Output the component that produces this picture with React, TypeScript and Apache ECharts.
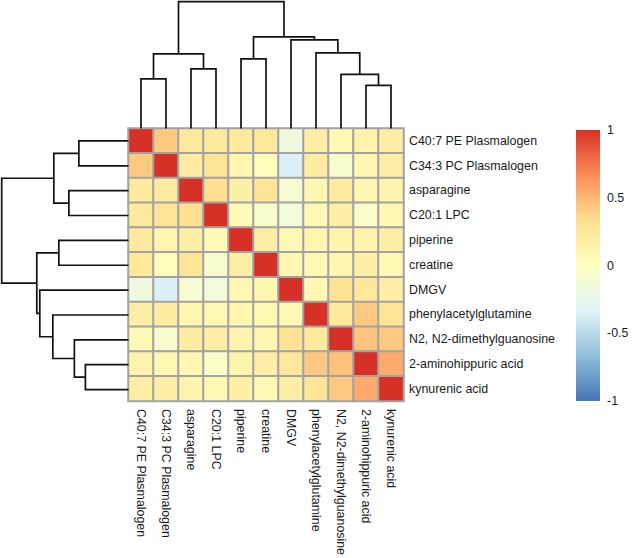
import React, { useEffect, useRef } from "react";
import * as echarts from "echarts";

const labels = [
  "C40:7 PE Plasmalogen",
  "C34:3 PC Plasmalogen",
  "asparagine",
  "C20:1 LPC",
  "piperine",
  "creatine",
  "DMGV",
  "phenylacetylglutamine",
  "N2, N2-dimethylguanosine",
  "2-aminohippuric acid",
  "kynurenic acid",
];

const corr = [
  [1, 0.43, 0.23, 0.23, 0.23, 0.25, -0.18, 0.19, 0.08, 0.14, 0.19],
  [0.43, 1, 0.21, 0.29, 0.11, 0.02, -0.35, 0.2, -0.08, 0.09, 0.19],
  [0.23, 0.21, 1, 0.34, 0.17, 0.29, -0.1, 0.1, 0.2, 0.1, 0.12],
  [0.23, 0.29, 0.34, 1, 0.05, -0.08, -0.15, 0.08, 0.17, -0.05, 0.07],
  [0.23, 0.11, 0.17, 0.05, 1, 0.19, 0.08, 0.11, 0.12, 0.12, 0.17],
  [0.25, 0.02, 0.29, -0.08, 0.19, 1, 0.1, 0.08, 0.1, 0.17, 0.08],
  [-0.18, -0.35, -0.1, -0.15, 0.08, 0.1, 1, 0.08, 0.3, 0.26, 0.18],
  [0.19, 0.2, 0.1, 0.08, 0.11, 0.08, 0.08, 1, 0.24, 0.43, 0.29],
  [0.08, -0.08, 0.2, 0.17, 0.12, 0.1, 0.3, 0.24, 1, 0.45, 0.43],
  [0.14, 0.09, 0.1, -0.05, 0.12, 0.17, 0.26, 0.43, 0.45, 1, 0.55],
  [0.19, 0.19, 0.12, 0.07, 0.17, 0.08, 0.18, 0.29, 0.43, 0.55, 1],
];

// hclust-style merges: negative = leaf (1-based position), positive = earlier merge
const merges: [number, number, number][] = [
  [-1, -2, 0.99],
  [-3, -4, 1.19],
  [1, 2, 1.49],
  [-5, -6, 1.39],
  [-10, -11, 0.86],
  [-9, 5, 1.08],
  [-8, 6, 1.51],
  [-7, 7, 1.77],
  [4, 8, 1.83],
  [3, 9, 2.53],
];
const treeHeight = 2.53;

const palette = ["#4575B4", "#91BFDB", "#E0F3F8", "#FFFFBF", "#FEE090", "#FC8D59", "#D73027"];
const scaleMin = -1;
const scaleMax = 1;

const FONT = "'Liberation Sans', Arial, Helvetica, sans-serif";
const TXT = "#1a1a1a";

function buildSegments() {
  const nodes: { pos: number; h: number }[] = [];
  const segs: number[][] = [];
  const get = (r: number) => (r < 0 ? { pos: -r - 0.5, h: 0 } : nodes[r - 1]);
  merges.forEach(([a, b, h]) => {
    const A = get(a);
    const B = get(b);
    segs.push([A.pos, A.h, B.pos, B.h, h]);
    nodes.push({ pos: (A.pos + B.pos) / 2, h });
  });
  return segs;
}

export default function App() {
  const ref = useRef<HTMLDivElement>(null);
  useEffect(() => {
    if (!ref.current) return;
    const chart = echarts.init(ref.current, null, { renderer: "svg" });
    const n = labels.length;
    const heat: number[][] = [];
    corr.forEach((row, i) => row.forEach((v, j) => heat.push([j, i, v])));
    const segs = buildSegments();
    const lineStyle = { stroke: "#111", lineWidth: 1.7, fill: "none" };

    const gradStops = palette
      .map((c, i) => ({ offset: 1 - i / (palette.length - 1), color: c }))
      .reverse();

    chart.setOption({
      animation: false,
      backgroundColor: "#fff",
      textStyle: { fontFamily: FONT },
      grid: [
        { left: 128.5, top: 128.5, width: 275, height: 273.5 },
        { left: 128.5, top: 1.7, width: 275, height: 126.8 },
        { left: 1.7, top: 128.5, width: 126.8, height: 273.5 },
        { left: 576, top: 130, width: 24, height: 271 },
      ],
      xAxis: [
        {
          type: "category",
          gridIndex: 0,
          data: labels,
          axisLine: { show: false },
          axisTick: { show: false },
          splitLine: { show: false },
          axisLabel: { rotate: -90, margin: 8, fontSize: 12.4, color: TXT, fontFamily: FONT, interval: 0 },
        },
        { type: "value", gridIndex: 1, min: 0, max: n, show: false },
        { type: "value", gridIndex: 2, min: 0, max: treeHeight, inverse: true, show: false },
        { type: "value", gridIndex: 3, min: 0, max: 1, show: false },
      ],
      yAxis: [
        {
          type: "category",
          gridIndex: 0,
          data: labels,
          inverse: true,
          position: "right",
          axisLine: { show: false },
          axisTick: { show: false },
          splitLine: { show: false },
          axisLabel: { margin: 5.5, fontSize: 12.4, color: TXT, fontFamily: FONT, interval: 0 },
        },
        { type: "value", gridIndex: 1, min: 0, max: treeHeight, show: false },
        { type: "value", gridIndex: 2, min: 0, max: n, inverse: true, show: false },
        {
          type: "value",
          gridIndex: 3,
          min: scaleMin,
          max: scaleMax,
          interval: 0.5,
          position: "right",
          axisLine: { show: false },
          axisTick: { show: false },
          splitLine: { show: false },
          axisLabel: { margin: 7, fontSize: 12.4, color: TXT, fontFamily: FONT },
        },
      ],
      visualMap: {
        type: "continuous",
        show: false,
        min: scaleMin,
        max: scaleMax,
        seriesIndex: 0,
        inRange: { color: palette },
      },
      series: [
        {
          type: "heatmap",
          xAxisIndex: 0,
          yAxisIndex: 0,
          data: heat,
          itemStyle: { borderColor: "#a2a2a2", borderWidth: 2 },
          emphasis: { disabled: true },
        },
        {
          type: "custom",
          xAxisIndex: 1,
          yAxisIndex: 1,
          clip: false,
          data: segs,
          renderItem: (_p: any, api: any) => {
            const xl = api.value(0), hl = api.value(1), xr = api.value(2), hr = api.value(3), h = api.value(4);
            return {
              type: "polyline",
              shape: { points: [api.coord([xl, hl]), api.coord([xl, h]), api.coord([xr, h]), api.coord([xr, hr])] },
              style: lineStyle,
            };
          },
        },
        {
          type: "custom",
          xAxisIndex: 2,
          yAxisIndex: 2,
          clip: false,
          data: segs,
          renderItem: (_p: any, api: any) => {
            const xl = api.value(0), hl = api.value(1), xr = api.value(2), hr = api.value(3), h = api.value(4);
            return {
              type: "polyline",
              shape: { points: [api.coord([hl, xl]), api.coord([h, xl]), api.coord([h, xr]), api.coord([hr, xr])] },
              style: lineStyle,
            };
          },
        },
        {
          type: "custom",
          xAxisIndex: 3,
          yAxisIndex: 3,
          clip: false,
          data: [[0, scaleMin]],
          renderItem: (_p: any, api: any) => {
            const a = api.coord([0, scaleMax]);
            const b = api.coord([1, scaleMin]);
            return {
              type: "rect",
              shape: { x: a[0], y: a[1], width: b[0] - a[0], height: b[1] - a[1] },
              style: { fill: new echarts.graphic.LinearGradient(0, 0, 0, 1, gradStops) },
            };
          },
        },
      ],
    });
    return () => chart.dispose();
  }, []);
  return (
    <div
      ref={ref}
      style={{ position: "absolute", left: 0, top: 0, width: 632, height: 558, background: "#fff" }}
    />
  );
}
